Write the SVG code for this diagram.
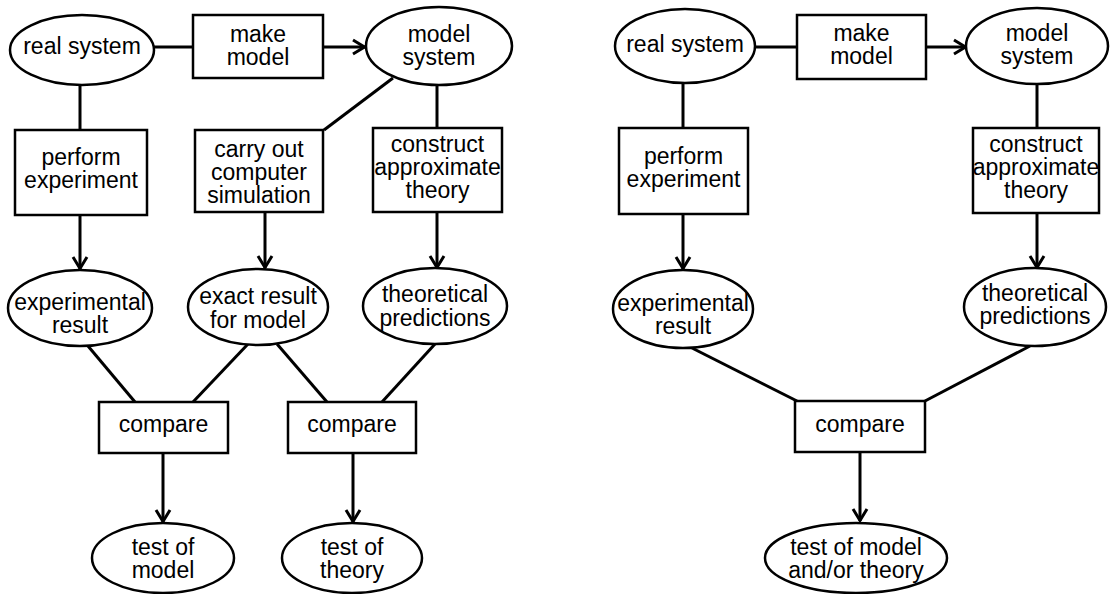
<svg xmlns="http://www.w3.org/2000/svg" width="1112" height="594" viewBox="0 0 1112 594">
<defs>
<style>
.n{fill:#fff;stroke:#000;stroke-width:2.5}
.c{fill:none;stroke:#000;stroke-width:3}
text{font-family:"Liberation Sans",Arial,Helvetica,sans-serif;font-size:23px;text-anchor:middle;fill:#000}
</style>
<marker id="ah" markerUnits="userSpaceOnUse" markerWidth="16" markerHeight="18" viewBox="0 0 16 18" refX="14" refY="9" orient="auto">
<path d="M2,2 L13.5,9 L2,16" fill="none" stroke="#000" stroke-width="3"/>
</marker>
</defs>
<rect width="1112" height="594" fill="#fff"/>
<g id="connectors">
<!-- left diagram -->
<line class="c" x1="154" y1="47" x2="193" y2="47"/>
<line class="c" x1="323" y1="47" x2="365" y2="47" marker-end="url(#ah)"/>
<line class="c" x1="80" y1="85" x2="80" y2="130"/>
<line class="c" x1="80" y1="215" x2="80" y2="269" marker-end="url(#ah)"/>
<line class="c" x1="393" y1="78" x2="324" y2="130"/>
<line class="c" x1="265" y1="212" x2="265" y2="268" marker-end="url(#ah)"/>
<line class="c" x1="437" y1="85" x2="437" y2="128"/>
<line class="c" x1="437" y1="212" x2="437" y2="268" marker-end="url(#ah)"/>
<line class="c" x1="88" y1="346" x2="135" y2="402"/>
<line class="c" x1="248" y1="344" x2="193" y2="402"/>
<line class="c" x1="277" y1="344" x2="327" y2="402"/>
<line class="c" x1="435" y1="344" x2="382" y2="402"/>
<line class="c" x1="163" y1="453" x2="163" y2="522" marker-end="url(#ah)"/>
<line class="c" x1="353" y1="453" x2="353" y2="522" marker-end="url(#ah)"/>
<!-- right diagram -->
<line class="c" x1="755" y1="47" x2="797" y2="47"/>
<line class="c" x1="926" y1="47" x2="966" y2="47" marker-end="url(#ah)"/>
<line class="c" x1="683" y1="83" x2="683" y2="128"/>
<line class="c" x1="683" y1="214" x2="683" y2="269" marker-end="url(#ah)"/>
<line class="c" x1="1037" y1="84" x2="1037" y2="128"/>
<line class="c" x1="1037" y1="213" x2="1037" y2="268" marker-end="url(#ah)"/>
<line class="c" x1="690" y1="347" x2="797" y2="401"/>
<line class="c" x1="1030" y1="346" x2="925" y2="401"/>
<line class="c" x1="860" y1="452" x2="860" y2="521" marker-end="url(#ah)"/>
</g>
<!-- left diagram nodes -->
<g id="L_real"><ellipse class="n" cx="82" cy="50" rx="72" ry="35"/><text x="82" y="54">real system</text></g>
<g id="L_make"><rect class="n" x="193" y="15" width="130" height="63"/><text x="258" y="42">make</text><text x="258" y="65">model</text></g>
<g id="L_model"><ellipse class="n" cx="439" cy="46" rx="73" ry="39"/><text x="439" y="42">model</text><text x="439" y="65">system</text></g>
<g id="L_perform"><rect class="n" x="15" y="130" width="132" height="85"/><text x="81" y="165">perform</text><text x="81" y="188">experiment</text></g>
<g id="L_sim"><rect class="n" x="195" y="130" width="128" height="82"/><text x="259" y="157">carry out</text><text x="259" y="180">computer</text><text x="259" y="203">simulation</text></g>
<g id="L_construct"><rect class="n" x="373" y="128" width="129" height="84"/><text x="437.5" y="152">construct</text><text x="437.5" y="175">approximate</text><text x="437.5" y="198">theory</text></g>
<g id="L_exp"><ellipse class="n" cx="80" cy="308" rx="72" ry="38"/><text x="80" y="310">experimental</text><text x="80" y="333">result</text></g>
<g id="L_exact"><ellipse class="n" cx="258" cy="307" rx="70" ry="38"/><text x="258" y="304">exact result</text><text x="258" y="328">for model</text></g>
<g id="L_theo"><ellipse class="n" cx="435" cy="306" rx="72" ry="38"/><text x="435" y="302">theoretical</text><text x="435" y="326">predictions</text></g>
<g id="L_cmp1"><rect class="n" x="99" y="402" width="129" height="51"/><text x="163.5" y="432">compare</text></g>
<g id="L_cmp2"><rect class="n" x="288" y="402" width="128" height="51"/><text x="352" y="432">compare</text></g>
<g id="L_test1"><ellipse class="n" cx="163" cy="558" rx="71" ry="35"/><text x="163" y="555">test of</text><text x="163" y="578">model</text></g>
<g id="L_test2"><ellipse class="n" cx="352" cy="558" rx="70" ry="35"/><text x="352" y="555">test of</text><text x="352" y="578">theory</text></g>
<!-- right diagram nodes -->
<g id="R_real"><ellipse class="n" cx="685" cy="46" rx="70" ry="37"/><text x="685" y="52">real system</text></g>
<g id="R_make"><rect class="n" x="797" y="15" width="129" height="64"/><text x="861.5" y="41">make</text><text x="861.5" y="64">model</text></g>
<g id="R_model"><ellipse class="n" cx="1037" cy="46" rx="71" ry="38"/><text x="1037" y="41">model</text><text x="1037" y="64">system</text></g>
<g id="R_perform"><rect class="n" x="619" y="128" width="129" height="86"/><text x="683.5" y="164">perform</text><text x="683.5" y="187">experiment</text></g>
<g id="R_construct"><rect class="n" x="973" y="128" width="126" height="85"/><text x="1036" y="152">construct</text><text x="1036" y="175">approximate</text><text x="1036" y="198">theory</text></g>
<g id="R_exp"><ellipse class="n" cx="683" cy="309" rx="70" ry="39"/><text x="683" y="311">experimental</text><text x="683" y="334">result</text></g>
<g id="R_theo"><ellipse class="n" cx="1035" cy="307" rx="71" ry="39"/><text x="1035" y="301">theoretical</text><text x="1035" y="324">predictions</text></g>
<g id="R_cmp"><rect class="n" x="795" y="401" width="130" height="51"/><text x="860" y="432">compare</text></g>
<g id="R_test"><ellipse class="n" cx="856" cy="558" rx="91" ry="35"/><text x="856" y="555">test of model</text><text x="856" y="578">and/or theory</text></g>
</svg>
